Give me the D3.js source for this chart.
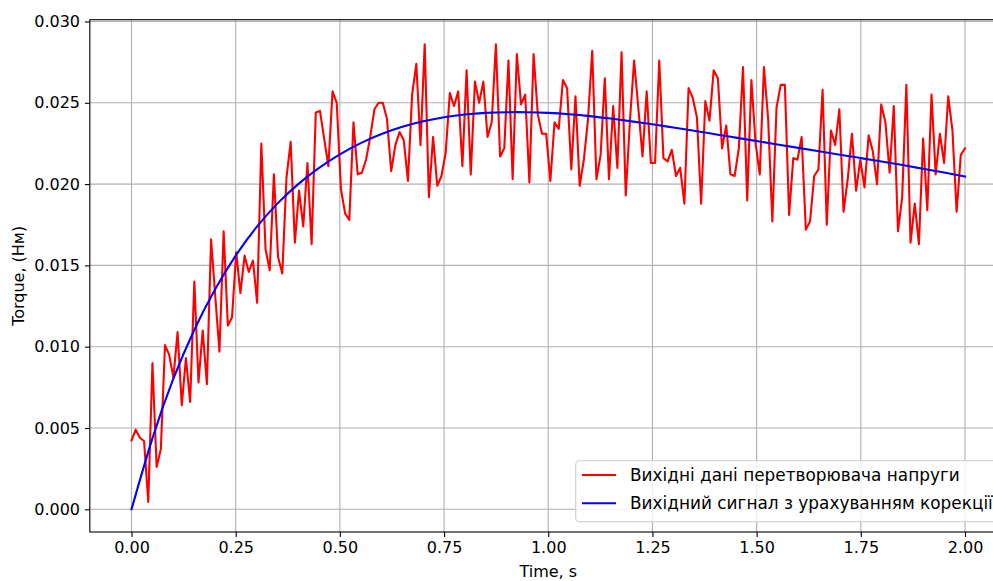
<!DOCTYPE html>
<html>
<head>
<meta charset="utf-8">
<script src="https://cdn.jsdelivr.net/npm/d3@7"></script>
<style>
  body { margin: 0; background: #fff; }
  svg { display: block; }
  text { font-family: "DejaVu Sans", sans-serif; }
</style>
</head>
<body>
<svg id="chart" width="993" height="581"></svg>
<script>
// ---------------- DATA ----------------
const xTicks = [0.00, 0.25, 0.50, 0.75, 1.00, 1.25, 1.50, 1.75, 2.00];
const yTicks = [0.000, 0.005, 0.010, 0.015, 0.020, 0.025, 0.030];
const seriesNames = ["Вихідні дані перетворювача напруги", "Вихідний сигнал з урахуванням корекції"];
const axisLabels = { x: "Time, s", y: "Torque, (Нм)" };

// raw converter output (200 samples over 0..2 s)
const rawValues = [
  0.00424, 0.0049, 0.0044, 0.0042, 0.00045, 0.0090, 0.0026, 0.0037, 0.0101, 0.0095,
  0.0081, 0.0109, 0.0064, 0.0093, 0.0066, 0.0140, 0.0078, 0.0110, 0.0077, 0.0166,
  0.0131, 0.0097, 0.0171, 0.0113, 0.0118, 0.0158, 0.0133, 0.0156, 0.0146, 0.0153,
  0.0127, 0.0225, 0.0160, 0.0147, 0.0206, 0.0155, 0.0145, 0.0204, 0.0226, 0.0164,
  0.0196, 0.0174, 0.0213, 0.0163, 0.0244, 0.0245, 0.0228, 0.0211, 0.0257, 0.0250,
  0.0197, 0.0182, 0.0178, 0.0238, 0.0206, 0.0207, 0.0215, 0.0229, 0.0246, 0.0250,
  0.0250, 0.0240, 0.0208, 0.0224, 0.0232, 0.0227, 0.0202, 0.0255, 0.0274, 0.0224,
  0.0286, 0.0192, 0.0229, 0.0199, 0.0205, 0.0219, 0.0256, 0.0248, 0.0257, 0.0211,
  0.0270, 0.0206, 0.0263, 0.0250, 0.0263, 0.0229, 0.0238, 0.0286, 0.0217, 0.0222,
  0.0276, 0.0203, 0.0280, 0.0249, 0.0255, 0.0201, 0.0280, 0.0243, 0.0231, 0.0231,
  0.0202, 0.0238, 0.0234, 0.0264, 0.0259, 0.0209, 0.0254, 0.0199, 0.0215, 0.0240,
  0.0282, 0.0203, 0.0218, 0.0265, 0.0203, 0.0248, 0.0210, 0.0281, 0.0193, 0.0239,
  0.0276, 0.0247, 0.0217, 0.0257, 0.0213, 0.0213, 0.0276, 0.0216, 0.0214, 0.0221,
  0.0205, 0.0210, 0.0188, 0.0259, 0.0253, 0.0241, 0.0188, 0.0251, 0.0239, 0.0270,
  0.0265, 0.0222, 0.0236, 0.0206, 0.0205, 0.0222, 0.0272, 0.0190, 0.0264, 0.0225,
  0.0206, 0.0272, 0.0240, 0.0177, 0.0247, 0.0261, 0.0261, 0.0181, 0.0216, 0.0215,
  0.0229, 0.0172, 0.0177, 0.0205, 0.0209, 0.0258, 0.0175, 0.0233, 0.0224, 0.0246,
  0.0183, 0.0203, 0.0231, 0.0196, 0.0215, 0.0198, 0.0230, 0.0220, 0.0200, 0.0249,
  0.0238, 0.0207, 0.0248, 0.0171, 0.0192, 0.0261, 0.0164, 0.0188, 0.0163, 0.0228,
  0.0184, 0.0255, 0.0206, 0.0231, 0.0213, 0.0254, 0.0233, 0.0183, 0.0218, 0.0222
];
const rawTimes = d3.range(rawValues.length).map(i => 2 * i / (rawValues.length - 1));

// corrected output (sampled every 0.05 s)
const corrTimes = [0.00, 0.05, 0.10, 0.15, 0.20, 0.25, 0.30, 0.35, 0.40, 0.45,
  0.50, 0.55, 0.60, 0.65, 0.70, 0.75, 0.80, 0.85, 0.90, 0.95,
  1.00, 1.05, 1.10, 1.15, 1.20, 1.25, 1.30, 1.35, 1.40, 1.45,
  1.50, 1.55, 1.60, 1.65, 1.70, 1.75, 1.80, 1.85, 1.90, 1.95, 2.00];
const corrValues = [0.00000, 0.00435, 0.00800, 0.01100, 0.01350, 0.01560, 0.01735, 0.01880, 0.02000, 0.02100,
  0.02183, 0.02252, 0.02308, 0.02352, 0.02386, 0.02411, 0.02428, 0.02438, 0.02442, 0.02442,
  0.02438, 0.02430, 0.02418, 0.02403, 0.02386, 0.02368, 0.02348, 0.02328, 0.02307, 0.02286,
  0.02265, 0.02244, 0.02223, 0.02202, 0.02181, 0.02160, 0.02139, 0.02117, 0.02094, 0.02071, 0.02047];

// ---------------- CHART ----------------
const svg = d3.select("#chart");
const x = d3.scaleLinear().domain([0, 2]).range([131.5, 965]);
const y = d3.scaleLinear().domain([0, 0.03]).range([509.3, 21.5]);
const plotLeft = x(-0.1), plotRight = x(2.1), plotTop = 19.7, plotBottom = 532;

svg.append("rect").attr("x", 0).attr("y", 0).attr("width", 993).attr("height", 581).attr("fill", "#fff");

// grid
const grid = svg.append("g");
grid.selectAll("line.gx").data(xTicks).enter().append("line")
  .attr("x1", d => x(d)).attr("x2", d => x(d)).attr("y1", plotTop).attr("y2", plotBottom)
  .attr("stroke", "#b0b0b0").attr("stroke-width", 1.1);
grid.selectAll("line.gy").data(yTicks).enter().append("line")
  .attr("x1", plotLeft).attr("x2", plotRight).attr("y1", d => y(d)).attr("y2", d => y(d))
  .attr("stroke", "#b0b0b0").attr("stroke-width", 1.1);

// clip
svg.append("clipPath").attr("id", "clip").append("rect")
  .attr("x", plotLeft).attr("y", plotTop).attr("width", plotRight - plotLeft).attr("height", plotBottom - plotTop);

const plot = svg.append("g").attr("clip-path", "url(#clip)");
const lineRaw = d3.line().x((d, i) => x(rawTimes[i])).y(d => y(d));
plot.append("path").datum(rawValues).attr("d", lineRaw)
  .attr("fill", "none").attr("stroke", "#ff0000").attr("stroke-width", 2.1)
  .attr("stroke-linejoin", "round").attr("stroke-linecap", "square");

const lineCorr = d3.line().x((d, i) => x(corrTimes[i])).y(d => y(d)).curve(d3.curveNatural);
plot.append("path").datum(corrValues).attr("d", lineCorr)
  .attr("fill", "none").attr("stroke", "#0000ff").attr("stroke-width", 2.1)
  .attr("stroke-linecap", "square");

// axes
const xAxis = d3.axisBottom(x).tickValues(xTicks).tickFormat(d3.format(".2f"))
  .tickSizeInner(4.9).tickSizeOuter(0).tickPadding(4.9);
const gx = svg.append("g").attr("transform", `translate(0,${plotBottom})`).call(xAxis);
const yAxis = d3.axisLeft(y).tickValues(yTicks).tickFormat(d3.format(".3f"))
  .tickSizeInner(4.9).tickSizeOuter(0).tickPadding(4.9);
const gy = svg.append("g").attr("transform", `translate(${plotLeft},0)`).call(yAxis);
[gx, gy].forEach(g => {
  g.select(".domain").remove();
  g.selectAll(".tick line").attr("stroke", "#000").attr("stroke-width", 1.1);
  g.selectAll(".tick text").attr("font-size", 16).attr("fill", "#000")
    .style("font-family", "'DejaVu Sans', sans-serif");
});

// frame
svg.append("rect").attr("x", plotLeft).attr("y", plotTop).attr("width", plotRight - plotLeft).attr("height", plotBottom - plotTop)
  .attr("fill", "none").attr("stroke", "#000").attr("stroke-width", 1.1);

// axis labels
svg.append("text").attr("x", (plotLeft + plotRight) / 2).attr("y", 577).attr("text-anchor", "middle")
  .attr("font-size", 16).text(axisLabels.x);
svg.append("text").attr("transform", `translate(24,${(plotTop + plotBottom) / 2}) rotate(-90)`)
  .attr("text-anchor", "middle").attr("font-size", 16).text(axisLabels.y);

// legend
const lg = svg.append("g");
lg.append("rect").attr("x", 575.7).attr("y", 460.7).attr("width", 440).attr("height", 61)
  .attr("rx", 4).attr("fill", "#fff").attr("fill-opacity", 0.8)
  .attr("stroke", "#cccccc").attr("stroke-width", 1.1);
const legColors = ["#ff0000", "#0000ff"];
const legY = [475, 503.3];
seriesNames.forEach((name, i) => {
  lg.append("line").attr("x1", 582).attr("x2", 616).attr("y1", legY[i]).attr("y2", legY[i])
    .attr("stroke", legColors[i]).attr("stroke-width", 2.1);
  lg.append("text").attr("x", 630).attr("y", legY[i] + 6.1).attr("font-size", 16.9)
    .attr("fill", "#000").text(name);
});
</script>
</body>
</html>
